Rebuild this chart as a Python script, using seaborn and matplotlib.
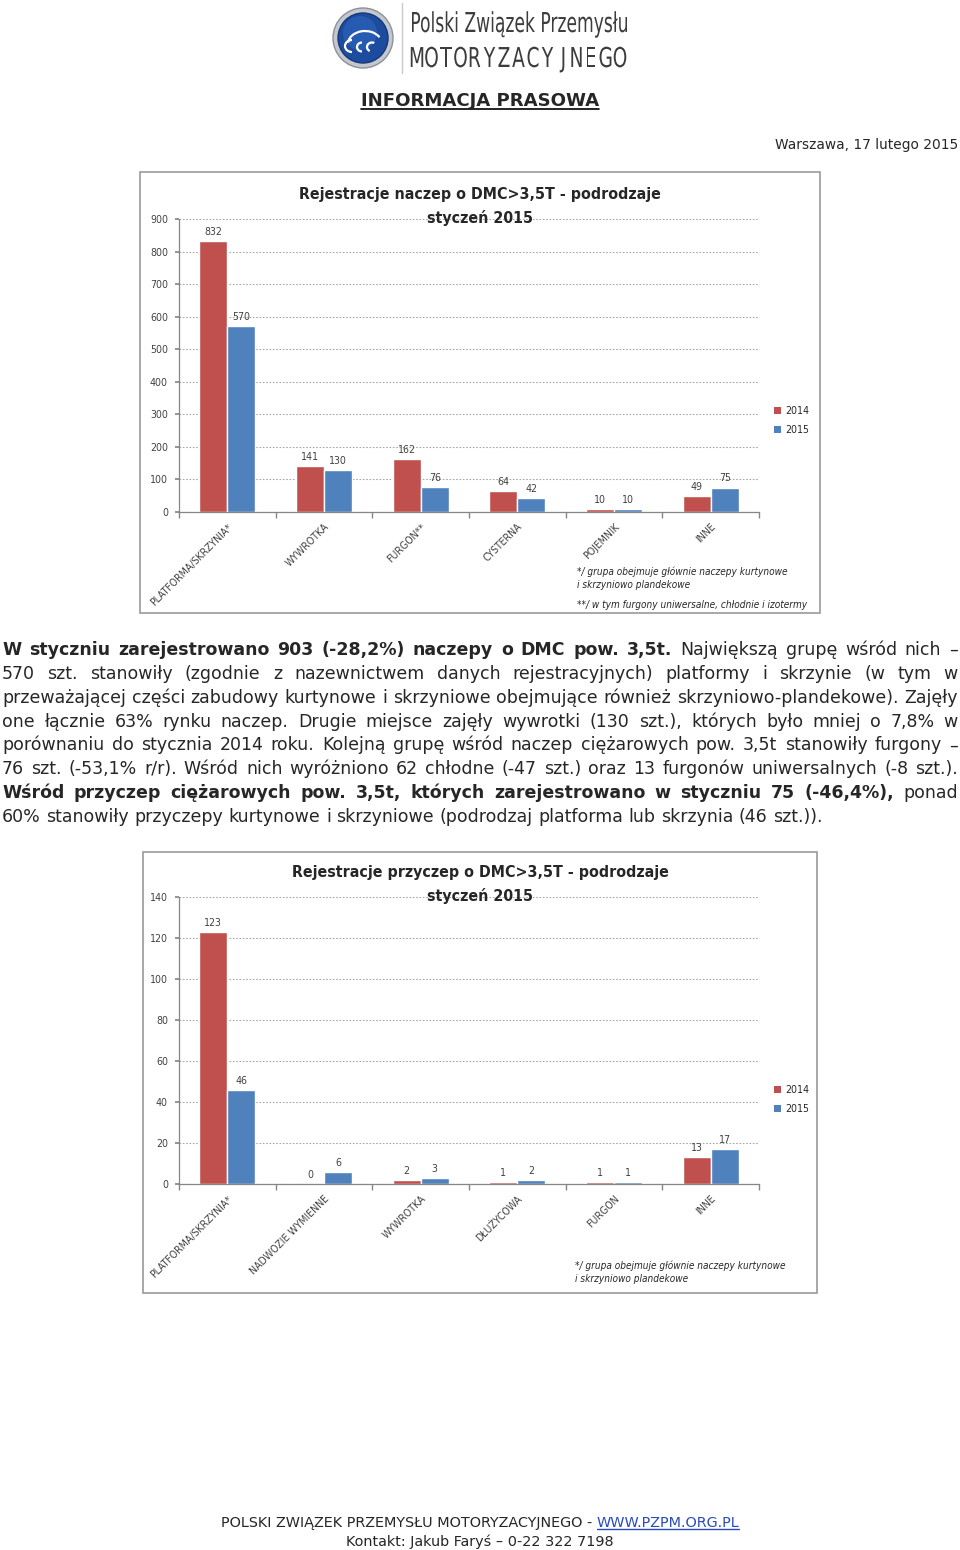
# Komunikat prasowy PZPM: rejestracje naczep i przyczep o DMC>3,5t, styczeń 2014 vs 2015
import matplotlib
matplotlib.use('Agg')
import matplotlib.pyplot as plt
from matplotlib import font_manager
from matplotlib.patches import Rectangle, Circle, Arc, Patch, PathPatch
from matplotlib.lines import Line2D
from matplotlib.textpath import TextPath
from matplotlib.font_manager import FontProperties
from matplotlib.transforms import Affine2D, IdentityTransform
import pandas as pd
import seaborn as sns

# Dane - naczepy
naczepy_kat = ['PLATFORMA/SKRZYNIA*', 'WYWROTKA', 'FURGON**', 'CYSTERNA', 'POJEMNIK', 'INNE']
naczepy_2014 = [832, 141, 162, 64, 10, 49]
naczepy_2015 = [570, 130, 76, 42, 10, 75]

# Dane - przyczepy
przyczepy_kat = ['PLATFORMA/SKRZYNIA*', 'NADWOZIE WYMIENNE', 'WYWROTKA', 'DŁUŻYCOWA', 'FURGON', 'INNE']
przyczepy_2014 = [123, 0, 2, 1, 1, 13]
przyczepy_2015 = [46, 6, 3, 2, 1, 17]

lata = ['2014', '2015']
kolory = ['#C0504D', '#4F81BD']

# Tekst komunikatu (segment, pogrubiony)
akapit = [
    [('W styczniu zarejestrowano 903 (-28,2%) naczepy o DMC pow. 3,5t.', True), ('Największą grupę wśród nich –', False)],
    [('570 szt. stanowiły (zgodnie z nazewnictwem danych rejestracyjnych) platformy i skrzynie (w tym w', False)],
    [('przeważającej części zabudowy kurtynowe i skrzyniowe obejmujące również skrzyniowo-plandekowe). Zajęły', False)],
    [('one łącznie 63% rynku naczep. Drugie miejsce zajęły wywrotki (130 szt.), których było mniej o 7,8% w', False)],
    [('porównaniu do stycznia 2014 roku. Kolejną grupę wśród naczep ciężarowych pow. 3,5t stanowiły furgony –', False)],
    [('76 szt. (-53,1% r/r). Wśród nich wyróżniono 62 chłodne (-47 szt.) oraz 13 furgonów uniwersalnych (-8 szt.).', False)],
    [('Wśród przyczep ciężarowych pow. 3,5t, których zarejestrowano w styczniu 75 (-46,4%),', True), ('ponad', False)],
    [('60% stanowiły przyczepy kurtynowe i skrzyniowe (podrodzaj platforma lub skrzynia (46 szt.)).', False)],
]

sns.set_theme(style='white')
plt.rcParams['font.family'] = ['DejaVu Sans']

# waska czcionka do wykresow (jak Calibri w oryginale), jesli jest
fonty = font_manager.fontManager.ttflist
if any(f.name == 'Liberation Sans Narrow' for f in fonty):
    WASKI = {'family': 'Liberation Sans Narrow'}
elif any(f.name == 'DejaVu Sans' and f.stretch == 'condensed' for f in fonty):
    WASKI = {'family': 'DejaVu Sans', 'stretch': 'condensed'}
else:
    WASKI = {'family': 'DejaVu Sans'}

W, H = 960, 1550
fig = plt.figure(figsize=(W / 100, H / 100), dpi=100)
fig.patch.set_facecolor('white')
rend = fig.canvas.get_renderer()


def fx(x):
    return x / W


def fy(y):
    return 1 - y / H


def szerokosc(s, size, **kw):
    t = fig.text(0, 0, s, fontsize=size, **kw)
    w = t.get_window_extent(rend).width
    t.remove()
    return w


def rozmiar(s, cel, **kw):
    # dobiera rozmiar czcionki tak, by napis mial zadana szerokosc w px
    return 10 * cel / szerokosc(s, 10, **kw)


# ---------- logo ----------
fig.patches.append(Circle((363, H - 38), 30, transform=IdentityTransform(), fc='#C4C8CE', ec='#8C9098', lw=1))
fig.patches.append(Circle((363, H - 38), 25, transform=IdentityTransform(), fc='#1D4C9E', ec='#16387A', lw=1))
fig.patches.append(Circle((360, H - 33), 17, transform=IdentityTransform(), fc='#2F66BE', ec='none', alpha=0.6))
for (cx, cy, w_, h_, t1, t2) in [(365, 44, 34, 26, 25, 175), (352, 46, 14, 12, 90, 270),
                                  (362, 47, 10, 9, 90, 270), (372, 47, 10, 9, 60, 240)]:
    fig.patches.append(Arc((cx, H - cy), w_, h_, theta1=t1, theta2=t2, transform=IdentityTransform(),
                           color='white', lw=1.6))
fig.add_artist(Line2D([fx(402), fx(402)], [fy(3), fy(73)], color='#C8C8C8', lw=1))

PROP_LOGO = FontProperties(family='DejaVu Sans')


def napis_sciezka(s, x, y_base, sx, sy, kolor='#3C3C3C', srodek=False):
    tp = TextPath((0, 0), s, size=100, prop=PROP_LOGO)
    ext = tp.get_extents()
    dx = -(ext.x0 + ext.x1) / 2 if srodek else -ext.x0
    tr = Affine2D().translate(dx, 0).scale(sx, sy).translate(x, H - y_base)
    fig.patches.append(PathPatch(tr.transform_path(tp), transform=IdentityTransform(), fc=kolor, ec='none'))


SY = 20 / 73.0
szer_nazwy = TextPath((0, 0), 'Polski Związek Przemysłu', size=100, prop=PROP_LOGO).get_extents().width
napis_sciezka('Polski Związek Przemysłu', 412, 32, 215 / szer_nazwy, SY)
litery = 'MOTORYZACYJNEGO'
for i, ch in enumerate(litery):
    sr = 417 + i * (203 / (len(litery) - 1))
    napis_sciezka(ch, sr, 67, SY * 0.68, SY, srodek=True)

# ---------- naglowek ----------
fs_nag = rozmiar('INFORMACJA PRASOWA', 240, weight='bold')
t = fig.text(fx(480), fy(106), 'INFORMACJA PRASOWA', ha='center', va='baseline', fontsize=fs_nag, weight='bold')
bb = t.get_window_extent(rend)
fig.add_artist(Line2D([bb.x0 / W, bb.x1 / W], [fy(109), fy(109)], color='black', lw=1.2))

fs_data = rozmiar('Warszawa, 17 lutego 2015', 183)
fig.text(fx(958), fy(149), 'Warszawa, 17 lutego 2015', ha='right', va='baseline', fontsize=fs_data)

# ---------- akapit justowany ----------
fs_par = rozmiar(akapit[-1][0][0], 818)
LEWO, PRAWO = 2, 958
for nr, linia in enumerate(akapit):
    yb = 655 + nr * 23.85
    slowa = [(s, b) for seg, b in linia for s in seg.split()]
    wagi = ['bold' if b else 'normal' for _, b in slowa]
    szer = [szerokosc(s, fs_par, weight=wg) for (s, _), wg in zip(slowa, wagi)]
    if nr == len(akapit) - 1:
        odstep = szerokosc('a a', fs_par) - szerokosc('aa', fs_par)
    else:
        odstep = (PRAWO - LEWO - sum(szer)) / (len(slowa) - 1)
    x = LEWO
    for (s, _), wg, w_ in zip(slowa, wagi, szer):
        fig.text(fx(x), fy(yb), s, ha='left', va='baseline', fontsize=fs_par, weight=wg)
        x += w_ + odstep

# rozmiary czcionek na wykresach dobrane do szerokosci napisow w oryginale
fs_tyt = rozmiar('Rejestracje naczep o DMC>3,5T - podrodzaje', 360, weight='bold', **WASKI)
fs_prz = rozmiar('*/ grupa obejmuje głównie naczepy kurtynowe', 208, style='italic', **WASKI)
fs_ety = rozmiar('PLATFORMA/SKRZYNIA*', 112, **WASKI)
fs_liczb = rozmiar('900', 18, **WASKI)


# ---------- wykresy ----------
def wykres(kat, v14, v15, ramka, obszar, ymax, krok, tytul, tytul_y, przypisy, leg_y):
    x0, y0, x1, y1 = ramka
    fig.patches.append(Rectangle((fx(x0), fy(y1)), (x1 - x0) / W, (y1 - y0) / H, transform=fig.transFigure,
                                 fill=False, ec='#9A9A9A', lw=1.2))
    l, t_, r, b = obszar
    ax = fig.add_axes([fx(l), fy(b), (r - l) / W, (b - t_) / H])
    df = pd.DataFrame({'kategoria': kat + kat,
                       'rok': [lata[0]] * len(kat) + [lata[1]] * len(kat),
                       'liczba': v14 + v15})
    sns.barplot(data=df, x='kategoria', y='liczba', hue='rok', order=kat, hue_order=lata,
                palette=kolory, width=0.58, saturation=1, errorbar=None, legend=False, ax=ax)
    for c in ax.containers:
        ax.bar_label(c, fmt='%g', padding=3, fontsize=fs_liczb, color='#404040', **WASKI)
    ax.set_xlim(-0.5, len(kat) - 0.5)
    ax.set_ylim(0, ymax)
    yt = list(range(0, ymax + 1, krok))
    ax.set_yticks(yt, [str(v) for v in yt], fontsize=fs_liczb, color='#404040', **WASKI)
    ax.set_xticks(range(len(kat)), kat, rotation=45, ha='right', rotation_mode='anchor',
                  fontsize=fs_ety, color='#404040', **WASKI)
    ax.set_xticks([i - 0.5 for i in range(len(kat) + 1)], minor=True)
    ax.tick_params(axis='x', which='major', length=0, pad=7)
    ax.tick_params(axis='x', which='minor', length=4, color='#868686', direction='out', bottom=True)
    ax.tick_params(axis='y', length=3, color='#868686', direction='out', left=True, pad=5)
    ax.set_xlabel('')
    ax.set_ylabel('')
    ax.yaxis.grid(True, linestyle=(0, (1.5, 1.5)), color='#A8A8A8', lw=0.8)
    ax.xaxis.grid(False)
    ax.set_axisbelow(True)
    ax.spines[['top', 'right']].set_visible(False)
    for s in ('left', 'bottom'):
        ax.spines[s].set_color('#868686')
        ax.spines[s].set_linewidth(0.9)
    ax.set_facecolor('none')

    fig.text(fx(480), fy(tytul_y), tytul, ha='center', va='center', fontsize=fs_tyt, weight='bold',
             color='#262626', **WASKI)
    fig.text(fx(480), fy(tytul_y + 23), 'styczeń 2015', ha='center', va='center', fontsize=fs_tyt,
             weight='bold', color='#262626', **WASKI)

    uchwyty = [Patch(fc=k, ec='none') for k in kolory]
    ax.legend(uchwyty, lata, loc='upper left', bbox_to_anchor=(fx(774), fy(leg_y - 6)),
              bbox_transform=fig.transFigure, frameon=False, handlelength=0.7,
              handleheight=0.7, handletextpad=0.4, labelspacing=0.85, borderpad=0, borderaxespad=0,
              prop=dict(size=fs_liczb, **WASKI))

    for (px, py, s) in przypisy:
        fig.text(fx(px), fy(py), s, ha='left', va='center', fontsize=fs_prz, style='italic',
                 color='#262626', **WASKI)
    return ax


wykres(naczepy_kat, naczepy_2014, naczepy_2015,
       ramka=(140, 172, 820, 613), obszar=(179, 219, 759, 512), ymax=900, krok=100,
       tytul='Rejestracje naczep o DMC>3,5T - podrodzaje', tytul_y=195,
       przypisy=[(577, 572, '*/ grupa obejmuje głównie naczepy kurtynowe'),
                 (577, 585, 'i skrzyniowo plandekowe'),
                 (577, 605, '**/ w tym furgony uniwersalne, chłodnie i izotermy')],
       leg_y=412)

wykres(przyczepy_kat, przyczepy_2014, przyczepy_2015,
       ramka=(143, 852, 817, 1293), obszar=(179, 897, 759, 1184), ymax=140, krok=20,
       tytul='Rejestracje przyczep o DMC>3,5T - podrodzaje', tytul_y=873,
       przypisy=[(575, 1266, '*/ grupa obejmuje głównie naczepy kurtynowe'),
                 (575, 1279, 'i skrzyniowo plandekowe')],
       leg_y=1091)

# ---------- stopka ----------
czesc1 = 'POLSKI ZWIĄZEK PRZEMYSŁU MOTORYZACYJNEGO - '
czesc2 = 'WWW.PZPM.ORG.PL'
fs_st = rozmiar(czesc1 + czesc2, 522)
w1 = szerokosc(czesc1.rstrip(), fs_st) + (szerokosc('a a', fs_st) - szerokosc('aa', fs_st))
w2 = szerokosc(czesc2, fs_st)
xs = 480 - (w1 + w2) / 2
fig.text(fx(xs), fy(1527), czesc1, ha='left', va='baseline', fontsize=fs_st)
fig.text(fx(xs + w1), fy(1527), czesc2, ha='left', va='baseline', fontsize=fs_st, color='#2A4BC0')
fig.add_artist(Line2D([fx(xs + w1), fx(xs + w1 + w2)], [fy(1529), fy(1529)], color='#2A4BC0', lw=1))
fig.text(fx(480), fy(1546), 'Kontakt: Jakub Faryś – 0-22 322 7198', ha='center', va='baseline', fontsize=fs_st)

fig.savefig('out.png', dpi=100, facecolor='white')
